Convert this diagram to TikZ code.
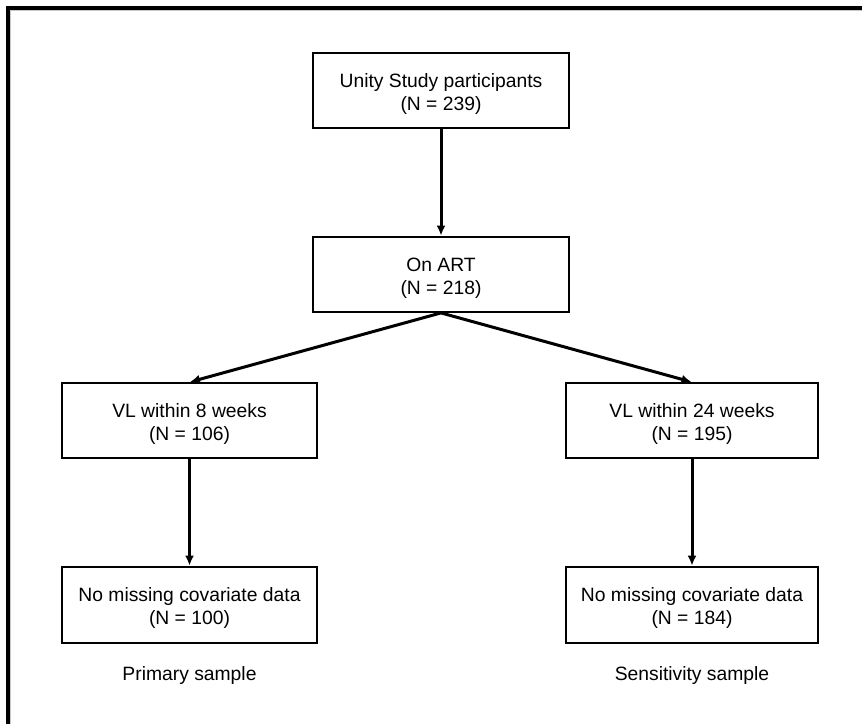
\documentclass[tikz,border=0pt]{standalone}
\usepackage{fontspec}
\setmainfont{Liberation Sans}
\usepackage{tikz}
\usetikzlibrary{arrows.meta, positioning}
\definecolor{framegrey}{HTML}{C8C8C8}

\begin{document}
\begin{tikzpicture}[x=1pt, y=-1pt,
  font=\fontsize{19.3}{23}\selectfont,
  flowbox/.style={draw, line width=1.8pt, align=center, inner sep=0pt,
    minimum width=255pt, minimum height=75pt},
  flowarrow/.style={-{Latex[length=10pt, width=9pt]}, line width=3pt, shorten >=0.5pt}]
  \useasboundingbox (0,0) rectangle (862,724);
  \def\up{\rule{0pt}{20pt}} % pushes the two lines down a little
  % frame (top and left only)
  \draw[framegrey, line width=1.5pt] (10.5,724) -- (10.5,10.5) -- (862,10.5);
  \draw[line width=4pt] (7.5,724) -- (7.5,7.5) -- (862,7.5);
  % boxes
  \node[flowbox, minimum width=256pt] (unity) at (441,90.5)
       {\up Unity Study participants\\(N = 239)};
  \node[flowbox, minimum width=256pt] (onart) at (441,274.5)
       {\up On ART\\(N = 218)};
  \node[flowbox] (vleight) at (189.5,420.5)
       {\up VL within 8 weeks\\(N = 106)};
  \node[flowbox, minimum width=252pt] (vltwenty) at (692,420.5)
       {\up VL within 24 weeks\\(N = 195)};
  \node[flowbox, minimum height=76pt] (primcov) at (189.5,605)
       {\up No missing covariate data\\(N = 100)};
  \node[flowbox, minimum width=252pt, minimum height=76pt] (senscov) at (692,605)
       {\up No missing covariate data\\(N = 184)};
  % sample labels
  \node (primlabel) at (189.5,675) {Primary sample};
  \node (senslabel) at (692,675) {Sensitivity sample};
  % connectors
  \draw[flowarrow] (unity.south) -- (onart.north);
  \draw[flowarrow] (onart.south) -- (vleight.north);
  \draw[flowarrow] (onart.south) -- (vltwenty.north);
  \draw[flowarrow] (vleight.south) -- (primcov.north);
  \draw[flowarrow] (vltwenty.south) -- (senscov.north);
\end{tikzpicture}
\end{document}
